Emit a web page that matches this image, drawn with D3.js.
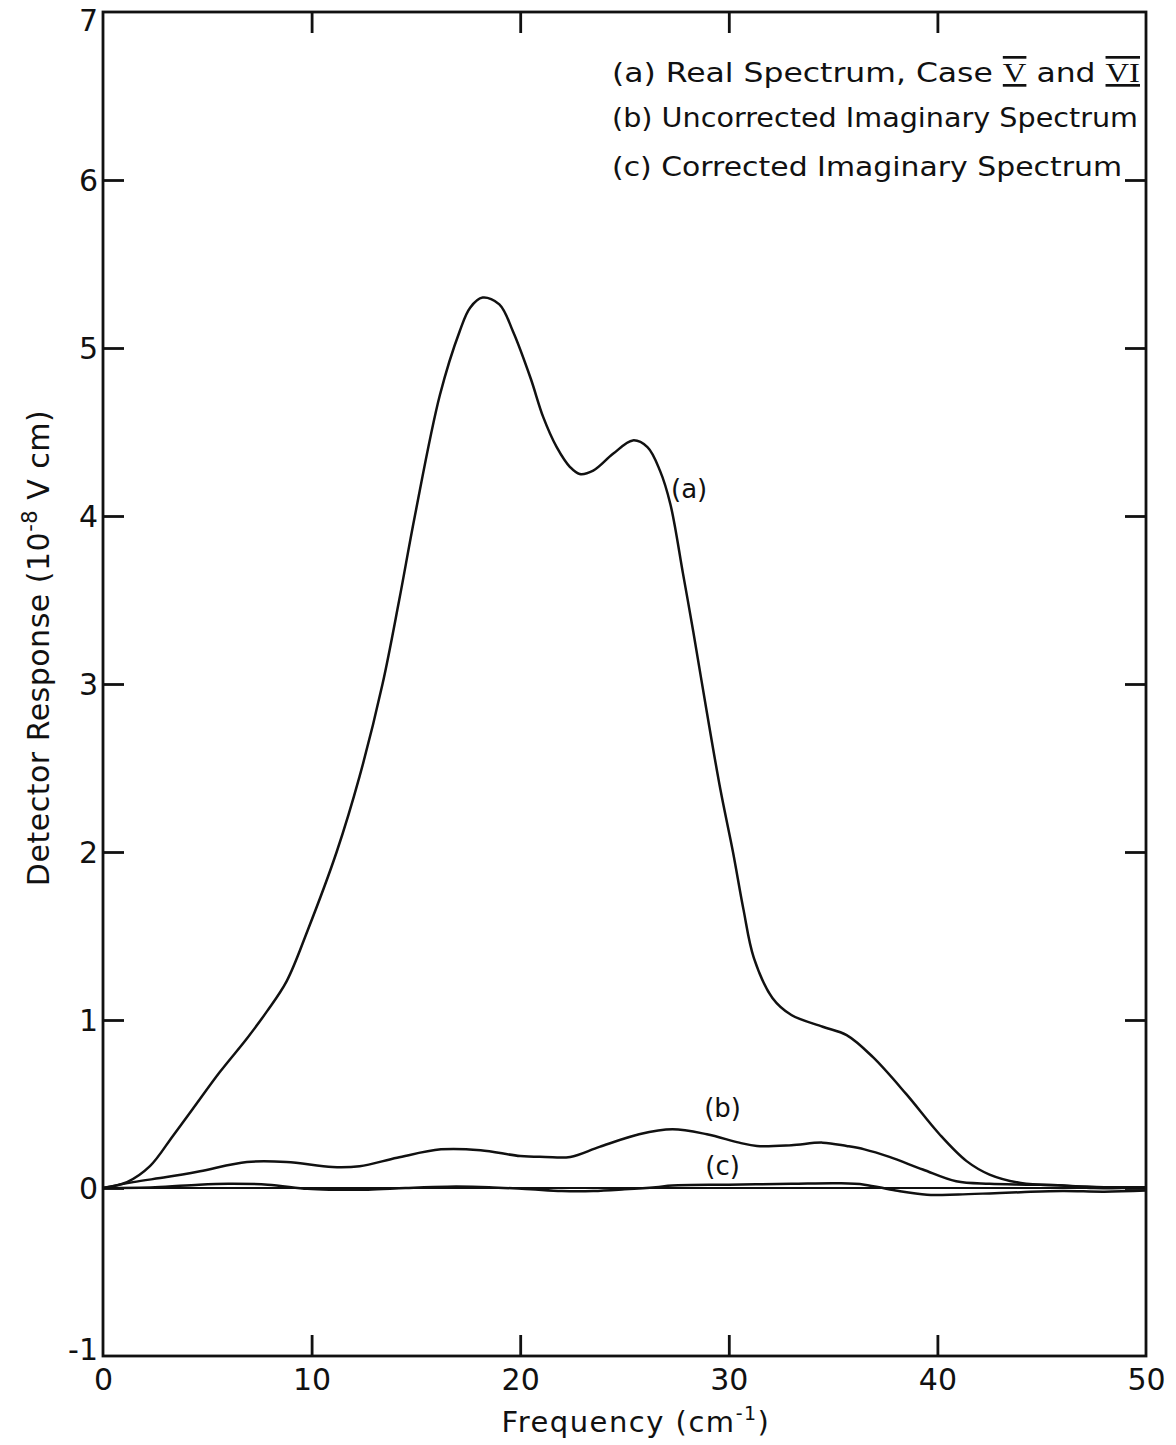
<!DOCTYPE html>
<html>
<head>
<meta charset="utf-8">
<script src="https://cdn.jsdelivr.net/npm/d3@7"></script>
<style>
  html, body { margin: 0; padding: 0; background: #fff; }
  svg { display: block; }
  text { font-family: "DejaVu Sans", "Noto Sans", sans-serif; fill: #111; }
</style>
</head>
<body>
<svg id="chart" width="1176" height="1445"></svg>
<script>
// ---- Data ----
const freqA = [0, 1.15, 2.25, 3.35, 4.3, 5.6, 6.9, 7.85, 8.8, 9.8, 11.2, 12.3, 13.4, 14.2, 14.95, 16.15, 17.1, 17.6, 18.2, 19.0, 19.65, 20.5, 21.1, 21.75, 22.4, 22.85, 23.5, 24.45, 25.4, 26.1, 26.7, 27.2, 27.8, 28.3, 28.95, 29.6, 30.2, 30.7, 31.2, 32.1, 33.0, 34.5, 35.65, 36.9, 38.5, 40.1, 41.4, 42.5, 44.0, 46.0, 48.0, 50.0];
const realA = [0, 0.035, 0.13, 0.31, 0.47, 0.69, 0.89, 1.05, 1.23, 1.53, 2.0, 2.45, 3.0, 3.5, 4.0, 4.72, 5.10, 5.24, 5.30, 5.26, 5.10, 4.82, 4.59, 4.41, 4.29, 4.25, 4.27, 4.37, 4.45, 4.41, 4.27, 4.07, 3.66, 3.31, 2.83, 2.37, 2.0, 1.66, 1.37, 1.13, 1.03, 0.96, 0.91, 0.78, 0.56, 0.32, 0.16, 0.08, 0.03, 0.015, 0.005, 0.005];

const freqB = [0, 1.45, 3.05, 4.65, 6.9, 8.8, 11.0, 12.3, 14.1, 16.2, 18.1, 20.0, 21.2, 22.4, 23.8, 25.7, 27.3, 28.95, 30.5, 31.35, 33.0, 34.5, 35.65, 36.5, 37.7, 39.3, 40.9, 42.5, 44.4, 46.0, 47.5, 50.0];
const uncorrB = [0, 0.035, 0.065, 0.10, 0.155, 0.155, 0.125, 0.13, 0.18, 0.23, 0.225, 0.19, 0.185, 0.185, 0.245, 0.32, 0.35, 0.32, 0.27, 0.25, 0.255, 0.27, 0.25, 0.23, 0.185, 0.11, 0.04, 0.025, 0.02, 0.015, 0.0, 0.005];

const freqC = [0, 2.5, 4.6, 6.0, 7.9, 9.8, 11.0, 12.7, 14.5, 16.5, 18.5, 20.5, 22.0, 23.5, 25.0, 26.5, 27.3, 30.0, 33.0, 35.3, 36.5, 38.0, 39.5, 41.0, 42.5, 44.0, 46.0, 48.0, 50.0];
const corrC = [0, 0.005, 0.02, 0.025, 0.02, -0.005, -0.01, -0.01, 0.0, 0.008, 0.005, -0.008, -0.018, -0.018, -0.008, 0.005, 0.015, 0.02, 0.025, 0.028, 0.02, -0.015, -0.04, -0.038, -0.032, -0.025, -0.018, -0.022, -0.015];

const zeroLine = [[0, 0], [50, 0]];

const xTicks = [0, 10, 20, 30, 40, 50];
const yTicks = [-1, 0, 1, 2, 3, 4, 5, 6, 7];
const legendLines = [
  ["(a)  Real Spectrum,  Case ", "V", " and ", "VI"],
  ["(b)  Uncorrected  Imaginary Spectrum"],
  ["(c)  Corrected  Imaginary Spectrum"]
];
const curveLabels = [{t: "(a)", f: 28.1, v: 4.15}, {t: "(b)", f: 29.7, v: 0.47}, {t: "(c)", f: 29.7, v: 0.12}];

// ---- Layout ----
const svg = d3.select("#chart");
const L = 103, R = 1146, T = 12, B = 1356;
const x = d3.scaleLinear().domain([0, 50]).range([L, R]);
const y = d3.scaleLinear().domain([-1, 7]).range([B, T]);

const ink = "#111";

// frame
svg.append("rect").attr("x", L).attr("y", T).attr("width", R - L).attr("height", B - T)
  .attr("fill", "none").attr("stroke", ink).attr("stroke-width", 2.8);

// axes with inward ticks
const tickLen = 21;
const fmt = d => String(d);
const gL = svg.append("g").attr("transform", `translate(${L},0)`)
  .call(d3.axisLeft(y).tickValues(yTicks).tickSize(-tickLen).tickFormat(fmt).tickPadding(5));
const gR = svg.append("g").attr("transform", `translate(${R},0)`)
  .call(d3.axisRight(y).tickValues(yTicks.filter(d => d > -1 && d < 7)).tickSize(-tickLen).tickFormat(""));
const gB = svg.append("g").attr("transform", `translate(0,${B})`)
  .call(d3.axisBottom(x).tickValues(xTicks).tickSize(-tickLen).tickFormat(fmt).tickPadding(13));
const gT = svg.append("g").attr("transform", `translate(0,${T})`)
  .call(d3.axisTop(x).tickValues(xTicks.filter(d => d > 0 && d < 50)).tickSize(-tickLen).tickFormat(""));

[gL, gR, gB, gT].forEach(g => {
  g.select(".domain").remove();
  g.selectAll(".tick line").attr("stroke", ink).attr("stroke-width", 2.8);
  g.selectAll(".tick text").attr("fill", ink).style("font-family", "'DejaVu Sans', sans-serif");
});
gL.selectAll(".tick").filter(d => d === -1 || d === 7).select("line").remove();
gB.selectAll(".tick").filter(d => d === 0 || d === 50).select("line").remove();
gL.selectAll(".tick text").style("font-size", "30px").attr("dy", "0.36em");
gL.selectAll(".tick").filter(d => d === 7).select("text").attr("dy", "0.62em");
gL.selectAll(".tick").filter(d => d === -1).select("text").attr("dy", "0.1em");
gB.selectAll(".tick text").style("font-size", "30px");

// axis titles
svg.append("text")
  .attr("x", 636).attr("y", 1432)
  .attr("text-anchor", "middle").style("font-size", "29px").style("letter-spacing", "1.5px")
  .html('Frequency (cm<tspan dy="-12" font-size="19">-1</tspan><tspan dy="12">)</tspan>');

svg.append("text")
  .attr("transform", "translate(49,648) rotate(-90)")
  .attr("text-anchor", "middle").style("font-size", "30px").style("letter-spacing", "0.5px")
  .html('Detector Response (10<tspan dy="-12" font-size="21">-8</tspan><tspan dy="12"> V cm)</tspan>');

// curves
const line = d3.line().x(d => x(d[0])).y(d => y(d[1])).curve(d3.curveCatmullRom.alpha(0.5));
const seriesA = freqA.map((f, i) => [f, realA[i]]);
const seriesB = freqB.map((f, i) => [f, uncorrB[i]]);
const seriesC = freqC.map((f, i) => [f, corrC[i]]);

svg.append("path").datum(zeroLine).attr("d", d3.line().x(d => x(d[0])).y(d => y(d[1])))
  .attr("fill", "none").attr("stroke", ink).attr("stroke-width", 2.2);
[seriesC, seriesB, seriesA].forEach(s => {
  svg.append("path").datum(s).attr("d", line)
    .attr("fill", "none").attr("stroke", ink).attr("stroke-width", 2.5)
    .attr("stroke-linejoin", "round");
});

// curve labels
curveLabels.forEach(c => {
  svg.append("text").attr("x", x(c.f)).attr("y", y(c.v))
    .attr("text-anchor", "middle").attr("dominant-baseline", "middle")
    .style("font-size", "26px").text(c.t);
});

// legend text
const legY = [82, 127, 176];
const legW = [528, 526, 510];
legendLines.forEach((parts, i) => {
  const t = svg.append("text").attr("x", 612).attr("y", legY[i])
    .style("font-size", "26px")
    .attr("textLength", legW[i]).attr("lengthAdjust", "spacingAndGlyphs");
  parts.forEach((p, j) => {
    const ts = t.append("tspan").text(p);
    if (parts.length > 1 && (j === 1 || j === 3)) {
      ts.style("font-family", "'Liberation Serif', 'DejaVu Serif', serif")
        .style("font-size", "27px")
        .style("text-decoration", "underline overline");
    }
  });
});
</script>
</body>
</html>
